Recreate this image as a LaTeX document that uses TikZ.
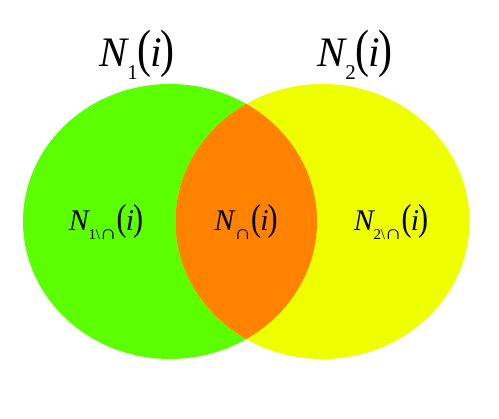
\documentclass[tikz,border=0pt]{standalone}
\usepackage{fontspec}
\setmainfont{Liberation Serif}
\definecolor{vgreen}{RGB}{92,255,0}
\definecolor{vyellow}{RGB}{238,255,0}
\definecolor{vorange}{RGB}{255,130,0}
\newcommand{\tallp}[1]{\scalebox{1}[1.25]{#1}}
\newcommand{\sublab}[1]{\raisebox{-0.3em}{\scalebox{0.5}{#1}}}
\newcommand{\bsl}{\kern-0.02em\textbackslash\kern-0.03em}
\newcommand{\capx}{\scalebox{1.6}[1.3]{∩}}
\newcommand{\setlab}[1]{\textit{N}\kern-0.05em\sublab{#1}\kern-0.01em\tallp{(}\kern-0.03em\textit{i}\kern-0.03em\tallp{)}}
\tikzset{
  biglab/.style={font=\fontsize{42}{44}\selectfont, inner sep=0pt},
  smalllab/.style={font=\fontsize{30}{32}\selectfont, inner sep=0pt},
}
\begin{document}
\begin{tikzpicture}[x=1pt,y=-1pt]
\useasboundingbox (0,0) rectangle (499,419);
\fill[vgreen] (170,221.5) ellipse [x radius=147, y radius=137.5];
\fill[vyellow] (322.5,221.5) ellipse [x radius=147, y radius=137.5];
\begin{scope}
  \clip (170,221.5) ellipse [x radius=147, y radius=137.5];
  \fill[vorange] (322.5,221.5) ellipse [x radius=147, y radius=137.5];
\end{scope}
\node[biglab] (t1) at (137,55) {\setlab{1}};
\node[biglab] (t2) at (355,55) {\setlab{2}};
\node[smalllab] (l1) at (106,222) {\setlab{1\bsl\capx}};
\node[smalllab] (lc) at (246,222) {\setlab{\capx}};
\node[smalllab] (l2) at (391,222) {\setlab{2\bsl\capx}};
\end{tikzpicture}
\end{document}
